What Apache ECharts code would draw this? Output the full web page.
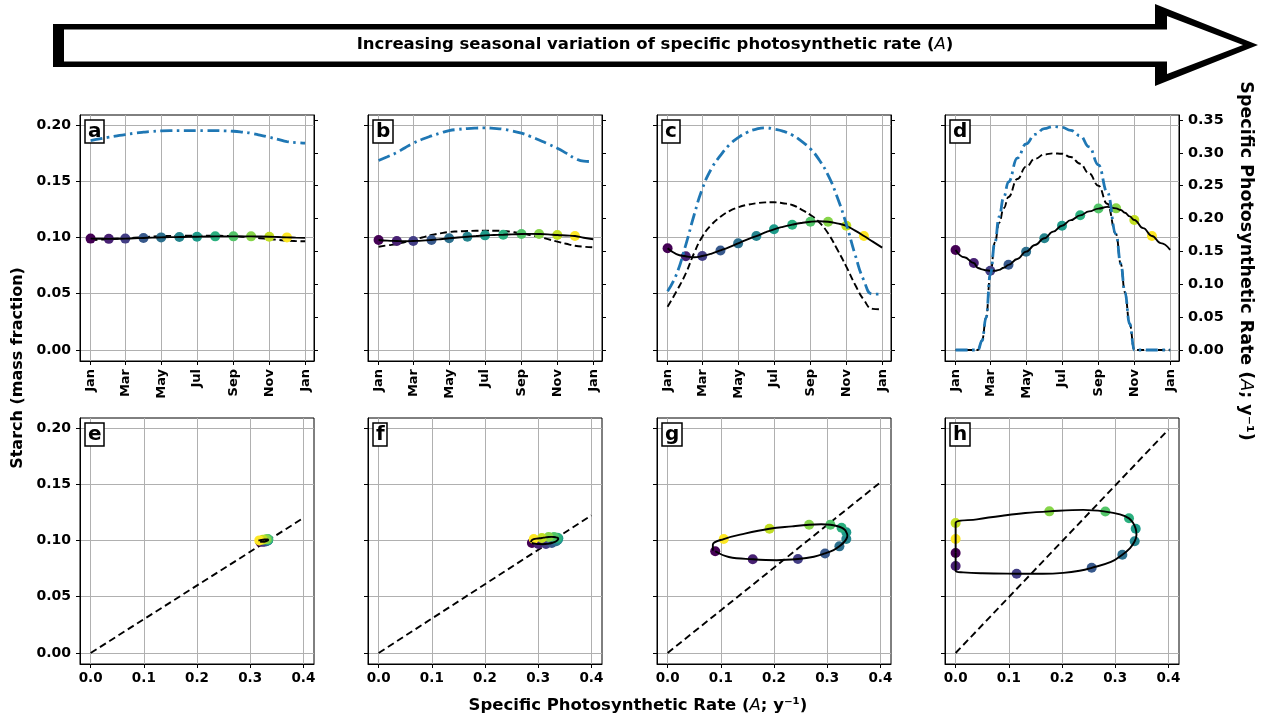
<!DOCTYPE html>
<html>
<head>
<meta charset="utf-8">
<script src="https://cdn.jsdelivr.net/npm/echarts@6/dist/echarts.min.js"></script>
<style>
  html, body { margin: 0; padding: 0; background: #fff; }
  #chart { width: 1265px; height: 721px; }
</style>
</head>
<body>
<div id="chart"></div>
<script>
// ---- tick labels and month markers ----
const monthTickDays = [0, 59, 120, 181, 243, 304, 365];
const monthTickNames = ['Jan', 'Mar', 'May', 'Jul', 'Sep', 'Nov', 'Jan'];
const monthStartDays = [0, 31, 59, 90, 120, 151, 181, 212, 243, 273, 304, 334];
const monthColors = ['#440154', '#482173', '#433e85', '#38598c', '#2d708e', '#25858e',
                     '#1e9b8a', '#2ab07f', '#52c569', '#86d549', '#c2df23', '#fde725'];
const starchTicks = [0, 0.05, 0.10, 0.15, 0.20];
const rateTicks = [0, 0.05, 0.10, 0.15, 0.20, 0.25, 0.30, 0.35];
const rateAxisTicks = [0, 0.1, 0.2, 0.3, 0.4];

// ---- day of year sampling (panels a-c) ----
const days = [0, 15, 31, 45, 59, 74, 90, 105, 120, 135, 151, 166, 181, 196, 212, 227, 243, 258, 273, 288, 304, 319, 334, 349, 365];

// panel a: weakest seasonal variation
const rateA = [0.3186, 0.3212, 0.3237, 0.3258, 0.3278, 0.3297, 0.3313, 0.3325, 0.3333, 0.3337, 0.3338, 0.3338, 0.3338,
               0.3338, 0.3338, 0.3335, 0.3328, 0.3315, 0.3298, 0.3270, 0.3237, 0.3205, 0.3171, 0.3155, 0.3146];
const starchA = [0.0990, 0.0989, 0.0988, 0.0989, 0.0990, 0.0993, 0.0996, 0.0999, 0.1001, 0.1003, 0.1004, 0.1006, 0.1007,
                 0.1009, 0.1010, 0.1010, 0.1010, 0.1010, 0.1010, 0.1009, 0.1007, 0.1004, 0.1001, 0.0999, 0.0997];
const equilA = [0.0975, 0.0980, 0.0985, 0.0989, 0.0992, 0.0998, 0.1004, 0.1009, 0.1012, 0.1014, 0.1015, 0.1016, 0.1016,
                0.1016, 0.1016, 0.1014, 0.1012, 0.1007, 0.1000, 0.0993, 0.0986, 0.0979, 0.0972, 0.0968, 0.0966];

// panel b
const rateB = [0.2882, 0.2940, 0.3003, 0.3078, 0.3146, 0.3205, 0.3257, 0.3300, 0.3338, 0.3356, 0.3369, 0.3376, 0.3379,
               0.3372, 0.3359, 0.3333, 0.3298, 0.3250, 0.3196, 0.3135, 0.3069, 0.2995, 0.2917, 0.2872, 0.2866];
const starchB = [0.0978, 0.0972, 0.0969, 0.0967, 0.0969, 0.0972, 0.0978, 0.0985, 0.0993, 0.1000, 0.1007, 0.1013, 0.1019,
                 0.1022, 0.1025, 0.1028, 0.1031, 0.1032, 0.1031, 0.1028, 0.1022, 0.1018, 0.1013, 0.0998, 0.0984];
const equilB = [0.0918, 0.0930, 0.0942, 0.0960, 0.0978, 0.1000, 0.1022, 0.1037, 0.1049, 0.1054, 0.1058, 0.1060, 0.1061,
                0.1060, 0.1058, 0.1049, 0.1037, 0.1022, 0.1007, 0.0985, 0.0963, 0.0944, 0.0927, 0.0918, 0.0913];

// panel c
const rateC = [0.0895, 0.1150, 0.1600, 0.2050, 0.2450, 0.2750, 0.2960, 0.3120, 0.3230, 0.3310, 0.3360, 0.3380, 0.3360,
               0.3330, 0.3270, 0.3180, 0.3060, 0.2890, 0.2660, 0.2340, 0.1915, 0.1450, 0.1055, 0.0850, 0.0852];
const starchC = [0.0904, 0.0853, 0.0833, 0.0825, 0.0835, 0.0855, 0.0885, 0.0915, 0.0948, 0.0982, 0.1013, 0.1045, 0.1073,
                 0.1095, 0.1114, 0.1129, 0.1140, 0.1144, 0.1140, 0.1126, 0.1104, 0.1061, 0.1013, 0.0963, 0.0910];
const equilC = [0.0385, 0.0520, 0.0681, 0.0860, 0.1007, 0.1110, 0.1185, 0.1235, 0.1268, 0.1290, 0.1304, 0.1312, 0.1313,
                0.1305, 0.1289, 0.1250, 0.1200, 0.1135, 0.1037, 0.0900, 0.0741, 0.0580, 0.0444, 0.0365, 0.0361];

// panel d: strongest variation, finer sampling around the winter shutdown
const daysD = [0, 15, 31, 38, 45, 52, 59, 67, 74, 82, 90, 105, 120, 135, 151, 166, 181, 196, 212, 227, 243, 258, 273,
               281, 288, 296, 304, 319, 334, 349, 365];
const rateD = [0, 0, 0, 0, 0.0142, 0.0497, 0.1147, 0.1640, 0.2025, 0.2330, 0.2558, 0.2920, 0.3135, 0.3280, 0.3367,
               0.3400, 0.3386, 0.3340, 0.3260, 0.3090, 0.2815, 0.2400, 0.1762, 0.1310, 0.0880, 0.0400, 0, 0, 0, 0, 0];
const starchD = [0.0889, 0.0824, 0.0773, 0.0729, 0.0717, 0.0709, 0.0705, 0.0704, 0.0712, 0.0731, 0.0757, 0.0809,
                 0.0874, 0.0933, 0.0993, 0.1052, 0.1105, 0.1154, 0.1197, 0.1232, 0.1257, 0.1272, 0.1259, 0.1244,
                 0.1220, 0.1188, 0.1155, 0.1083, 0.1013, 0.0950, 0.0890];
const equilD = [0, 0, 0, 0, 0.0083, 0.0290, 0.0670, 0.0958, 0.1130, 0.1260, 0.1360, 0.1520, 0.1630, 0.1700, 0.1738,
                0.1748, 0.1745, 0.1715, 0.1655, 0.1570, 0.1460, 0.1300, 0.1030, 0.0765, 0.0514, 0.0234, 0, 0, 0, 0, 0];

// equilibrium starch lines in the phase panels: from A = 0 to A = 0.4
const equilRateEnds = [0, 0.4];
const equilStarchEnds = [[0, 0.1200], [0, 0.1223], [0, 0.1517], [0, 0.1985]];

const panelLetters = ['a', 'b', 'c', 'd', 'e', 'f', 'g', 'h'];

// ---- layout ----
const FONT = 'DejaVu Sans';
const lefts = [80, 368, 657, 945];
const plotW = 234, plotH = 246;
const topRowY = 115, bottomRowY = 418;
const gridColor = '#b0b0b0';

const panels = [
  { t: days, rate: rateA, starch: starchA, equil: equilA, smooth: 0.5, mono: undefined },
  { t: days, rate: rateB, starch: starchB, equil: equilB, smooth: 0.5, mono: undefined },
  { t: days, rate: rateC, starch: starchC, equil: equilC, smooth: 0.5, mono: undefined },
  { t: daysD, rate: rateD, starch: starchD, equil: equilD, smooth: 0.45, mono: 'x' }
];

const labelFont = { fontFamily: FONT, fontWeight: 'bold', color: '#000' };
const tickStyle = { show: true, length: 4, inside: false, lineStyle: { color: '#000', width: 1 } };
const splitStyle = { show: true, lineStyle: { color: gridColor, width: 1 } };
const frameLine = { show: true, onZero: false, lineStyle: { color: '#000', width: 1 } };

const grids = [], xAxes = [], yAxes = [], series = [], titles = [];

function fmt(v, n) { return Number(v).toFixed(n); }

[topRowY, bottomRowY].forEach(top => {
  lefts.forEach(left => {
    grids.push({ left: left, top: top, width: plotW, height: plotH, show: true,
                 borderColor: '#000', borderWidth: 1, containLabel: false, outerBoundsMode: 'none' });
  });
});

panels.forEach((p, i) => {
  xAxes[i] = {
    type: 'value', gridIndex: i, min: -18, max: 380,
    axisLine: frameLine,
    axisTick: Object.assign({ customValues: monthTickDays }, tickStyle),
    axisLabel: Object.assign({ customValues: monthTickDays, rotate: 90, margin: 8, fontSize: 13,
      formatter: v => monthTickNames[monthTickDays.indexOf(Math.round(v))] }, labelFont),
    splitLine: splitStyle
  };
  xAxes[4 + i] = {
    type: 'value', gridIndex: 4 + i, min: -0.02, max: 0.42,
    axisLine: frameLine,
    axisTick: Object.assign({ customValues: rateAxisTicks }, tickStyle),
    axisLabel: Object.assign({ customValues: rateAxisTicks, margin: 7, fontSize: 13.5,
      formatter: v => fmt(v, 1) }, labelFont),
    splitLine: splitStyle
  };
  // left starch axis (top)
  yAxes[2 * i] = {
    type: 'value', gridIndex: i, position: 'left', min: -0.0098, max: 0.2089,
    axisLine: frameLine,
    axisTick: Object.assign({ customValues: starchTicks }, tickStyle),
    axisLabel: Object.assign({ show: i === 0, customValues: starchTicks, margin: 9, fontSize: 14,
      formatter: v => fmt(v, 2) }, labelFont),
    splitLine: splitStyle
  };
  // right rate axis (top)
  yAxes[2 * i + 1] = {
    type: 'value', gridIndex: i, position: 'right', min: -0.0167, max: 0.3575,
    axisLine: frameLine,
    axisTick: Object.assign({ customValues: rateTicks }, tickStyle),
    axisLabel: Object.assign({ show: i === 3, customValues: rateTicks, margin: 9, fontSize: 14.5,
      formatter: v => fmt(v, 2) }, labelFont),
    splitLine: { show: false }
  };
  // starch axis (bottom)
  yAxes[8 + i] = {
    type: 'value', gridIndex: 4 + i, position: 'left', min: -0.0098, max: 0.2089,
    axisLine: frameLine,
    axisTick: Object.assign({ customValues: starchTicks }, tickStyle),
    axisLabel: Object.assign({ show: i === 0, customValues: starchTicks, margin: 9, fontSize: 14,
      formatter: v => fmt(v, 2) }, labelFont),
    splitLine: splitStyle
  };

  const monthIdx = monthStartDays.map(d => p.t.indexOf(d));

  // ---- time series panel ----
  series.push({
    type: 'line', xAxisIndex: i, yAxisIndex: 2 * i, z: 3,
    data: p.t.map((d, k) => [d, p.equil[k]]),
    smooth: p.smooth, smoothMonotone: p.mono, showSymbol: false, symbol: 'none', silent: true,
    lineStyle: { color: '#000', width: 1.9, type: [7, 3.5] }
  });
  series.push({
    type: 'scatter', xAxisIndex: i, yAxisIndex: 2 * i, z: 4, symbolSize: 10, silent: true,
    data: monthIdx.map((k, m) => ({ value: [p.t[k], p.starch[k]], itemStyle: { color: monthColors[m], opacity: 1 } }))
  });
  series.push({
    type: 'line', xAxisIndex: i, yAxisIndex: 2 * i, z: 5,
    data: p.t.map((d, k) => [d, p.starch[k]]),
    smooth: p.smooth, smoothMonotone: p.mono, showSymbol: false, symbol: 'none', silent: true,
    lineStyle: { color: '#000', width: 1.9 }
  });
  series.push({
    type: 'line', xAxisIndex: i, yAxisIndex: 2 * i + 1, z: 6,
    data: p.t.map((d, k) => [d, p.rate[k]]),
    smooth: p.smooth, smoothMonotone: p.mono, showSymbol: false, symbol: 'none', silent: true,
    lineStyle: { color: '#1f77b4', width: 2.8, type: [12, 4.5, 2.5, 4.5] }
  });

  // ---- phase panel: starch against photosynthetic rate ----
  series.push({
    type: 'line', xAxisIndex: 4 + i, yAxisIndex: 8 + i, z: 3,
    data: equilRateEnds.map((a, k) => [a, equilStarchEnds[i][k]]),
    showSymbol: false, symbol: 'none', silent: true,
    lineStyle: { color: '#000', width: 1.9, type: [7, 4] }
  });
  series.push({
    type: 'scatter', xAxisIndex: 4 + i, yAxisIndex: 8 + i, z: 4, symbolSize: 10, silent: true,
    data: monthIdx.map((k, m) => ({ value: [p.rate[k], p.starch[k]], itemStyle: { color: monthColors[m], opacity: 1 } }))
  });
  series.push({
    type: 'line', xAxisIndex: 4 + i, yAxisIndex: 8 + i, z: 5,
    data: p.t.map((d, k) => [p.rate[k], p.starch[k]]),
    smooth: 0.4, showSymbol: false, symbol: 'none', silent: true,
    lineStyle: { color: '#000', width: 1.9 }
  });
});

// panel letters in boxes
panelLetters.forEach((L, j) => {
  const col = j % 4, row = Math.floor(j / 4);
  titles.push({
    text: L, left: lefts[col] + 5, top: (row === 0 ? topRowY : bottomRowY) + 5,
    padding: [1, 3, 0, 3], borderColor: '#000', borderWidth: 1.5, backgroundColor: '#fff',
    textStyle: { fontFamily: FONT, fontWeight: 'bold', fontSize: 20, color: '#000', lineHeight: 22 }
  });
});

const boldText = { fontFamily: FONT, fontWeight: 'bold', fontSize: 16.5, fill: '#000' };
const italicA = { fontFamily: FONT, fontStyle: 'italic', fontWeight: 'normal', fontSize: 16.5, fill: '#000' };
const boldSide = Object.assign({}, boldText, { fontSize: 17.5 });
const italicSide = Object.assign({}, italicA, { fontSize: 17.5 });

const graphics = [
  // outline arrow across the top
  { type: 'polygon', z: 10, shape: { points: [[53, 24], [1155, 24], [1155, 4], [1258, 45], [1155, 86], [1155, 67], [53, 67]] },
    style: { fill: '#000' } },
  { type: 'polygon', z: 11, shape: { points: [[64, 29.5], [1167, 29.5], [1167, 16], [1243, 45], [1167, 74], [1167, 61.5], [64, 61.5]] },
    style: { fill: '#fff' } },
  { type: 'text', z: 12, x: 655, y: 45,
    style: { text: '{b|Increasing seasonal variation of specific photosynthetic rate (}{i|A}{b|)}',
             align: 'center', verticalAlign: 'middle', rich: { b: boldText, i: italicA } } },
  // shared axis titles
  { type: 'text', z: 12, x: 18, y: 368, rotation: Math.PI / 2,
    style: Object.assign({ text: 'Starch (mass fraction)', align: 'center', verticalAlign: 'middle' }, boldText, { fontSize: 16 }) },
  { type: 'text', z: 12, x: 1246, y: 261, rotation: -Math.PI / 2,
    style: { text: '{b|Specific Photosynthetic Rate (}{i|A}{b|; y⁻¹)}', align: 'center', verticalAlign: 'middle',
             rich: { b: boldSide, i: italicSide } } },
  { type: 'text', z: 12, x: 638, y: 706,
    style: { text: '{b|Specific Photosynthetic Rate (}{i|A}{b|; y⁻¹)}', align: 'center', verticalAlign: 'middle',
             rich: { b: boldText, i: italicA } } }
];

const chart = echarts.init(document.getElementById('chart'), null, { renderer: 'canvas' });
chart.setOption({
  backgroundColor: '#fff',
  animation: false,
  title: titles,
  grid: grids,
  xAxis: xAxes,
  yAxis: yAxes,
  series: series,
  graphic: graphics
});
</script>
</body>
</html>
